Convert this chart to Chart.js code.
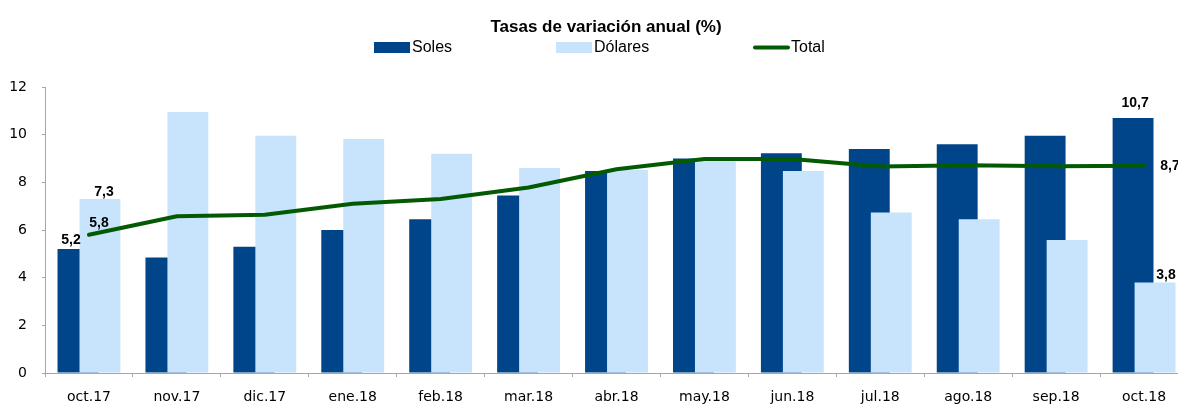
<!DOCTYPE html>
<html>
<head>
<meta charset="utf-8">
<script src="https://cdn.jsdelivr.net/npm/chart.js@4/dist/chart.umd.min.js"></script>
<style>
  html, body { margin: 0; padding: 0; background: #fff; overflow: hidden; }
  #wrap { position: relative; width: 1188px; height: 405px; }
</style>
</head>
<body>
<div id="wrap"><canvas id="js-bar-chart"></canvas></div>
<script>
// data
const months = ['oct.17', 'nov.17', 'dic.17', 'ene.18', 'feb.18', 'mar.18', 'abr.18', 'may.18', 'jun.18', 'jul.18', 'ago.18', 'sep.18', 'oct.18']
const soles = [5.2, 4.85, 5.3, 6.0, 6.45, 7.45, 8.48, 9.0, 9.22, 9.4, 9.6, 9.95, 10.7]
const dolares = [7.3, 10.95, 9.95, 9.82, 9.2, 8.6, 8.52, 8.92, 8.48, 6.73, 6.45, 5.58, 3.8]
const total = [5.8, 6.58, 6.64, 7.1, 7.3, 7.78, 8.55, 8.98, 8.98, 8.66, 8.72, 8.68, 8.7]
const yTicks = [0, 2, 4, 6, 8, 10, 12]

const titleText = 'Tasas de variación anual (%)'
const colSoles = '#00458a'
const colDolares = '#c8e4fc'
const colTotal = '#035a03'

// which values get a label: dataset index, point index, nudge
const valueLabels = [
  { ds: 0, i: 0, dx: -7, dy: -5 },
  { ds: 1, i: 0, dx: 4, dy: -3 },
  { ds: 2, i: 0, dx: 10, dy: -8 },
  { ds: 0, i: 12, dx: 2, dy: -11 },
  { ds: 1, i: 12, dx: 11, dy: -3 },
  { ds: 2, i: 12, dx: 26, dy: 0 },
]

const fmt = (v) => v.toFixed(1).replace('.', ',')

// title, legend and value labels
const decorations = {
  id: 'decorations',
  afterDatasetsDraw(chart) {
    const ctx = chart.ctx
    ctx.save()
    ctx.fillStyle = '#000'
    ctx.font = 'bold 17px "Liberation Sans", Arial, sans-serif'
    ctx.textAlign = 'center'
    ctx.textBaseline = 'alphabetic'
    ctx.fillText(titleText, 606, 32)

    // legend
    ctx.font = '16px "Liberation Sans", Arial, sans-serif'
    ctx.textAlign = 'left'
    ctx.textBaseline = 'middle'
    const ds = chart.data.datasets
    const legendX = [374, 556, 753]
    ds.forEach((d, k) => {
      const x = legendX[k]
      if (d.type === 'line') {
        ctx.strokeStyle = d.borderColor
        ctx.lineWidth = 4
        ctx.lineCap = 'round'
        ctx.beginPath()
        ctx.moveTo(x + 2, 47.5)
        ctx.lineTo(x + 35, 47.5)
        ctx.stroke()
      } else {
        ctx.fillStyle = d.backgroundColor
        ctx.fillRect(x, 42, 36, 11)
      }
      ctx.fillStyle = '#000'
      ctx.fillText(d.label, x + 38, 48)
    })

    // value labels
    ctx.font = 'bold 14px "Liberation Sans", Arial, sans-serif'
    valueLabels.forEach((l) => {
      const el = chart.getDatasetMeta(l.ds).data[l.i]
      const v = ds[l.ds].data[l.i]
      ctx.textAlign = 'center'
      ctx.textBaseline = (ds[l.ds].type === 'line' && l.dy === 0) ? 'middle' : 'alphabetic'
      ctx.fillText(fmt(v), el.x + l.dx, el.y + l.dy)
    })
    ctx.restore()
  }
}

const barContext = document.getElementById('js-bar-chart').getContext('2d')

const newBarChart = new Chart(barContext, {
  type: 'bar',
  data: {
    labels: months,
    datasets: [
      {
        label: 'Soles',
        data: soles,
        backgroundColor: colSoles,
        order: 2,
      },
      {
        label: 'Dólares',
        data: dolares,
        backgroundColor: colDolares,
        order: 1,
      },
      {
        type: 'line',
        label: 'Total',
        data: total,
        borderColor: colTotal,
        backgroundColor: colTotal,
        borderWidth: 4,
        borderCapStyle: 'round',
        borderJoinStyle: 'round',
        pointRadius: 0,
        tension: 0,
        order: 0,
      },
    ],
  },
  options: {
    responsive: true,
    maintainAspectRatio: false,
    animation: false,
    // negative percentages flip the slot order so Dólares sits right but draws on top
    datasets: {
      bar: {
        categoryPercentage: -0.5,
        barPercentage: -1.86,
      },
    },
    layout: { padding: { top: 87, left: 0, right: 0, bottom: 0 } },
    plugins: {
      legend: { display: false },
      title: { display: false },
      tooltip: { enabled: false },
    },
    scales: {
      x: {
        offset: true,
        grid: {
          offset: true,
          drawOnChartArea: false,
          drawTicks: true,
          tickLength: 4,
          color: '#a6a6a6',
        },
        border: { color: '#a6a6a6', width: 1 },
        ticks: {
          color: '#000',
          font: { family: '"DejaVu Sans", sans-serif', size: 14 },
          padding: 12,
          maxRotation: 0,
          autoSkip: false,
        },
        afterFit: (scale) => { scale.height = 32 },
      },
      y: {
        min: 0,
        max: 12,
        afterBuildTicks: (scale) => { scale.ticks = yTicks.map((v) => ({ value: v })) },
        grid: {
          drawOnChartArea: false,
          drawTicks: true,
          tickLength: 3,
          color: '#a6a6a6',
        },
        border: { color: '#a6a6a6', width: 1 },
        ticks: {
          color: '#000',
          font: { family: '"DejaVu Sans", sans-serif', size: 14 },
          padding: 15,
        },
        afterFit: (scale) => { scale.width = 45 },
      },
    },
  },
  plugins: [decorations],
})
</script>
</body>
</html>
